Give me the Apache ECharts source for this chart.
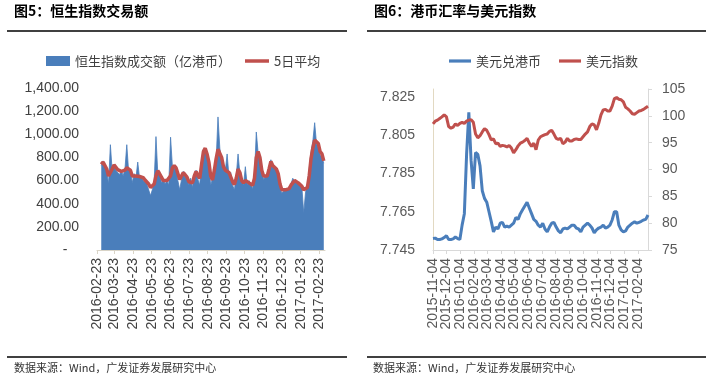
<!DOCTYPE html>
<html><head><meta charset="utf-8">
<script src="https://cdn.jsdelivr.net/npm/echarts@6/dist/echarts.min.js"></script>
<style>html,body{margin:0;padding:0;background:#fff}#c{width:713px;height:382px}</style>
</head><body><div id="c"></div>
<script>
// ---------- Figure 5 data: Hang Seng Index turnover (100m HKD) ----------
const hsiStart = [2016, 3, 1];
const hsiStepDays = 3;
const hsiTurnover = [730,770,720,680,570,910,680,720,690,700,
650,690,640,700,910,680,700,580,660,620,
760,620,640,600,610,570,560,470,520,590,
980,660,680,580,610,570,600,560,975,720,
700,720,600,520,610,680,620,640,560,620,
540,650,690,610,560,780,870,860,820,720,
560,620,700,780,1150,880,760,730,680,830,
640,670,560,520,640,830,660,590,560,720,
560,600,600,530,640,1020,840,780,680,610,
640,660,720,780,720,730,700,640,540,490,
510,500,520,520,570,620,590,600,570,580,
540,320,500,560,700,850,940,1100,920,880,
820,800,750];
const hsiMA5 = [740,760,745,700,640,630,700,735,720,695,
690,680,670,690,710,705,690,640,650,640,
645,635,630,625,605,595,570,540,525,570,
640,685,690,630,600,595,600,595,640,710,
730,710,660,610,600,670,660,630,590,600,
580,640,680,640,620,740,850,880,830,760,
640,605,690,790,870,880,800,720,690,690,
670,660,590,565,620,700,670,600,580,600,
590,580,590,560,620,800,850,800,690,640,
630,640,700,765,730,715,700,660,570,520,
515,520,515,530,560,580,600,590,580,570,
550,520,515,540,640,790,880,950,940,920,
850,830,770];
const hsiTicks = ['2016-02-23','2016-03-23','2016-04-23','2016-05-23','2016-06-23','2016-07-23','2016-08-23','2016-09-23','2016-10-23','2016-11-23','2016-12-23','2017-01-23','2017-02-23'];

// ---------- Figure 6 data: USD/HKD and US Dollar Index ----------
const fxStart = [2015, 11, 4];
const fxStepDays = 5;
const usdHkd = [7.7510,7.7512,7.7505,7.7505,7.7508,7.7515,7.7525,7.7505,7.7505,7.7508,
7.7518,7.7510,7.7505,7.7580,7.7640,7.7950,7.8170,7.7920,7.7770,7.7960,
7.7950,7.7890,7.7760,7.7720,7.7700,7.7650,7.7600,7.7545,7.7570,7.7560,
7.7590,7.7595,7.7570,7.7575,7.7570,7.7580,7.7590,7.7620,7.7610,7.7640,
7.7660,7.7680,7.7700,7.7670,7.7640,7.7610,7.7600,7.7580,7.7570,7.7590,
7.7560,7.7545,7.7570,7.7590,7.7595,7.7570,7.7550,7.7540,7.7560,7.7565,
7.7560,7.7570,7.7580,7.7580,7.7565,7.7560,7.7545,7.7570,7.7580,7.7590,
7.7580,7.7565,7.7540,7.7555,7.7565,7.7570,7.7580,7.7565,7.7570,7.7580,
7.7607,7.7650,7.7650,7.7580,7.7555,7.7545,7.7550,7.7570,7.7580,7.7590,
7.7597,7.7590,7.7595,7.7600,7.7607,7.7610,7.7633];
const dxy = [98.5,99.0,99.2,99.5,99.8,100.2,99.8,98.0,97.7,97.9,
98.5,98.2,98.6,98.8,98.6,99.0,99.2,99.3,98.8,96.6,
95.9,96.3,97.0,97.6,97.3,96.5,95.5,95.7,94.8,94.9,
94.3,94.5,94.4,94.2,94.5,94.0,93.1,93.7,94.4,94.9,
95.1,95.4,95.8,94.9,94.3,94.9,93.7,95.5,96.1,96.3,
96.5,96.6,97.1,97.3,96.6,95.8,95.6,95.8,94.8,95.1,
95.8,95.3,95.3,95.6,95.7,95.6,95.6,96.1,96.6,97.0,
98.0,98.5,98.3,97.4,98.6,100.2,101.1,101.2,100.9,100.9,
101.8,103.2,103.4,103.1,103.0,102.6,101.6,101.3,100.9,100.4,
100.3,100.6,100.9,101.0,101.2,101.5,101.8];
const fxTicks = ['2015-11-04','2015-12-04','2016-01-04','2016-02-04','2016-03-04','2016-04-04','2016-05-04','2016-06-04','2016-07-04','2016-08-04','2016-09-04','2016-10-04','2016-11-04','2016-12-04','2017-01-04','2017-02-04'];

// ---------- helpers ----------
function ts(s){ const p = s.split('-').map(Number); return new Date(p[0], p[1]-1, p[2]).getTime(); }
function seqDates(start, step, n){ const out=[]; for(let i=0;i<n;i++){ out.push(new Date(start[0], start[1]-1, start[2]+i*step).getTime()); } return out; }
function pad(n){ return (n<10?'0':'')+n; }
function fmtDate(v){ const d=new Date(v); return d.getFullYear()+'-'+pad(d.getMonth()+1)+'-'+pad(d.getDate()); }
function pairs(dates, vals){ return vals.map((v,i)=>[dates[i], v]); }

const hsiDates = seqDates(hsiStart, hsiStepDays, hsiTurnover.length);
const fxDates = seqDates(fxStart, fxStepDays, usdHkd.length);
const hsiTickTs = hsiTicks.map(ts);
const fxTickTs = fxTicks.map(ts);
const fxTickEven = fxTickTs.filter((v,i)=>i%2===0);
const fxTickOdd = fxTickTs.filter((v,i)=>i%2===1);

const numFont = 'Liberation Sans, Arial, sans-serif';
const cjkFont = 'Noto Sans CJK SC, sans-serif';
const blue = '#4a7ebb', red = '#c0504d';
const lineIcon = 'path://M0,0H22V3.2H0Z';
const fxMin = ts('2015-11-04'), fxMax = ts('2017-02-26');
const fxLabelStyle = {rotate:90, formatter:fmtDate, fontFamily:numFont, fontSize:14, color:'#595959', margin:8, hideOverlap:false, showMinLabel:true, showMaxLabel:true};

const chart = echarts.init(document.getElementById('c'), null, {renderer:'canvas'});
chart.setOption({
  animation: false,
  backgroundColor: '#fff',
  graphic: [
    {type:'text', left:14, top:4, style:{text:'图5：恒生指数交易额', font:'bold 14px '+cjkFont, fill:'#000'}},
    {type:'text', left:374, top:4, style:{text:'图6：港币汇率与美元指数', font:'bold 14px '+cjkFont, fill:'#000'}},
    {type:'line', shape:{x1:7,y1:31,x2:347,y2:31}, style:{stroke:'#000', lineWidth:1.5}},
    {type:'line', shape:{x1:367,y1:31,x2:706,y2:31}, style:{stroke:'#000', lineWidth:1.5}},
    {type:'line', shape:{x1:7,y1:357,x2:347,y2:357}, style:{stroke:'#000', lineWidth:1.5}},
    {type:'line', shape:{x1:367,y1:357,x2:706,y2:357}, style:{stroke:'#000', lineWidth:1.5}},
    {type:'text', left:14, top:362, style:{text:'数据来源：Wind，广发证券发展研究中心', font:'11px '+cjkFont, fill:'#333'}},
    {type:'text', left:373, top:362, style:{text:'数据来源：Wind，广发证券发展研究中心', font:'11px '+cjkFont, fill:'#333'}}
  ],
  legend: [
    {left:41, top:49, itemWidth:24, itemHeight:10, itemGap:14,
     textStyle:{fontFamily:cjkFont, fontSize:13, color:'#404040', lineHeight:14},
     data:[{name:'恒生指数成交额（亿港币）', icon:'rect'}, {name:'5日平均', icon:lineIcon}]},
    {left:444, top:49, itemWidth:22, itemHeight:10, itemGap:18,
     textStyle:{fontFamily:cjkFont, fontSize:13, color:'#404040', lineHeight:14},
     data:[{name:'美元兑港币', icon:lineIcon}, {name:'美元指数', icon:lineIcon}]}
  ],
  grid: [
    {left:97, top:88, width:228, height:162},
    {left:433, top:89, width:215, height:161}
  ],
  xAxis: [
    {type:'value', gridIndex:0, min:ts('2016-02-23'), max:ts('2017-03-04'), scale:true,
     axisLine:{show:true, lineStyle:{color:'#d9d4c7', width:1}},
     axisTick:{show:true, customValues:hsiTickTs, length:4, lineStyle:{color:'#d9d4c7'}},
     axisLabel:{customValues:hsiTickTs, rotate:90, formatter:fmtDate, fontFamily:numFont, fontSize:14, color:'#404040', margin:8, hideOverlap:false, showMinLabel:true, showMaxLabel:true},
     splitLine:{show:false}},
    {type:'value', gridIndex:1, position:'bottom', min:fxMin, max:fxMax, scale:true,
     axisLine:{show:true, lineStyle:{color:'#d9d9d9', width:1}},
     axisTick:{show:true, customValues:fxTickTs, length:4, lineStyle:{color:'#d9d9d9'}},
     axisLabel:Object.assign({customValues:fxTickEven}, fxLabelStyle),
     splitLine:{show:false}},
    {type:'value', gridIndex:1, position:'bottom', offset:0, min:fxMin, max:fxMax, scale:true,
     axisLine:{show:false}, axisTick:{show:false},
     axisLabel:Object.assign({customValues:fxTickOdd}, fxLabelStyle),
     splitLine:{show:false}}
  ],
  yAxis: [
    {type:'value', gridIndex:0, min:0, max:1400, interval:200,
     axisLine:{show:false}, axisTick:{show:false}, splitLine:{show:false},
     axisLabel:{margin:18, fontFamily:numFont, fontSize:14, color:'#404040',
       formatter:function(v){ return v===0 ? '-   ' : v.toLocaleString('en-US',{minimumFractionDigits:2, maximumFractionDigits:2}); }}},
    {type:'value', gridIndex:1, min:7.745, max:7.8292, interval:0.02,
     axisLine:{show:true, lineStyle:{color:'#e2d9c2'}}, axisTick:{show:false}, splitLine:{show:false},
     axisLabel:{margin:18, fontFamily:numFont, fontSize:14, color:'#595959', showMaxLabel:false,
       formatter:function(v){ const k=(v-7.745)/0.02; return Math.abs(k-Math.round(k))<1e-4 ? v.toFixed(3) : ''; }}},
    {type:'value', gridIndex:1, position:'right', min:75, max:105, interval:5,
     axisLine:{show:true, lineStyle:{color:'#d9d9d9'}}, axisTick:{show:true, inside:false, length:4, lineStyle:{color:'#d9d9d9'}}, splitLine:{show:false},
     axisLabel:{margin:14, fontFamily:numFont, fontSize:14, color:'#595959'}}
  ],
  series: [
    {name:'恒生指数成交额（亿港币）', type:'line', xAxisIndex:0, yAxisIndex:0, symbol:'none',
     data:pairs(hsiDates, hsiTurnover), lineStyle:{width:0.8, color:blue}, itemStyle:{color:blue},
     areaStyle:{color:blue, opacity:1}, z:2},
    {name:'5日平均', type:'line', xAxisIndex:0, yAxisIndex:0, symbol:'none',
     data:pairs(hsiDates, hsiMA5), lineStyle:{width:3.5, color:red}, itemStyle:{color:red}, z:3},
    {name:'美元兑港币', type:'line', xAxisIndex:1, yAxisIndex:1, symbol:'none',
     data:pairs(fxDates, usdHkd), lineStyle:{width:3, color:blue}, itemStyle:{color:blue}, z:3},
    {name:'美元指数', type:'line', xAxisIndex:1, yAxisIndex:2, symbol:'none',
     data:pairs(fxDates, dxy), lineStyle:{width:3, color:red}, itemStyle:{color:red}, z:3}
  ]
});
</script></body></html>
